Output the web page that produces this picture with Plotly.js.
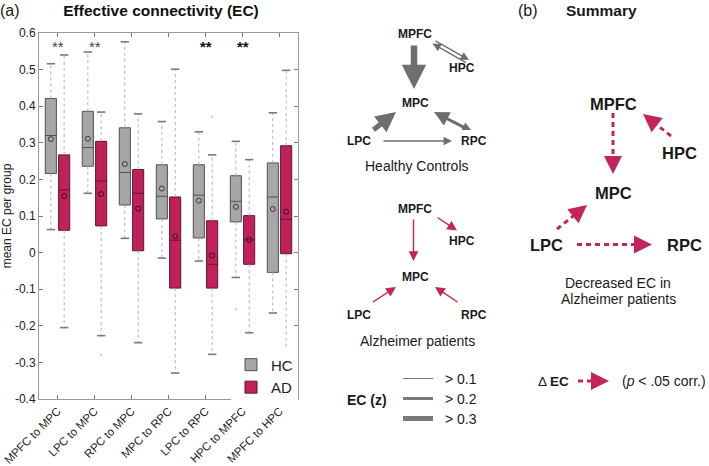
<!DOCTYPE html>
<html><head><meta charset="utf-8">
<script src="https://cdn.plot.ly/plotly-3.0.1.min.js"></script>
<style>html,body{margin:0;padding:0;background:#fff}#chart{width:709px;height:466px}</style>
</head><body><div id="chart"></div>
<script>
// ---------- data ----------
const categories = ['MPFC to MPC','LPC to MPC','RPC to MPC','MPC to RPC','LPC to RPC','HPC to MPFC','MPFC to HPC'];
const hcLower  = [0.063, 0.162, 0.039, -0.015, -0.023, -0.068, -0.165];
const hcQ1     = [0.216, 0.236, 0.130,  0.092,  0.040,  0.084, -0.054];
const hcMedian = [0.320, 0.287, 0.219,  0.154,  0.157,  0.140,  0.152];
const hcQ3     = [0.421, 0.386, 0.341,  0.240,  0.240,  0.210,  0.245];
const hcUpper  = [0.516, 0.548, 0.576,  0.358,  0.330,  0.304,  0.382];
const hcMean   = [0.310, 0.311, 0.242,  0.175,  0.142,  0.125,  0.119];
const adLower  = [-0.205, -0.227, -0.246, -0.329, -0.278, -0.219, -0.360];
const adQ1     = [0.061, 0.073, 0.005, -0.097, -0.097, -0.032, -0.003];
const adMedian = [0.171, 0.196, 0.162,  0.034, -0.032,  0.035,  0.091];
const adQ3     = [0.267, 0.304, 0.227,  0.152,  0.087,  0.101,  0.292];
const adUpper  = [0.540, 0.384, 0.379,  0.501,  0.267,  0.254,  0.498];
const adMean   = [0.154, 0.160, 0.120,  0.045, -0.008,  0.035,  0.112];
const hcOutlierCat = [5];
const hcOutlierVal = [-0.155];
const adOutlierCat = [1, 4];
const adOutlierVal = [-0.280, 0.371];
const sigCats = [0, 1, 4, 5];
const sigLabels = ['**', '**', '**', '**'];
const sigY = 0.562;
const yTickVals = [-0.4, -0.3, -0.2, -0.1, 0, 0.1, 0.2, 0.3, 0.4, 0.5, 0.6];
const yTickText = ['-0.4', '-0.3', '-0.2', '-0.1', '0', '0.1', '0.2', '0.3', '0.4', '0.5', '0.6'];
const groupNames = ['HC', 'AD'];
const ecLegendLabels = ['> 0.1', '> 0.2', '> 0.3'];

// ---------- styles ----------
const HC_FILL = '#a7a7a7', HC_LINE = '#505050';
const AD_FILL = '#c0215a', AD_LINE = '#5e1530';
const CRIMSON = '#c2255c';
const ARROW_GRAY = '#6e6e6e';
const OFF = 0.18, BOXW = 0.3;
const FONT = 'Liberation Sans, Arial, Helvetica, sans-serif';

const idx = categories.map((_, i) => i);
const hcX = idx.map(i => i - OFF);
const adX = idx.map(i => i + OFF);

function boxTrace(name, x, q1, med, q3, fill, line) {
  return {type: 'box', name: name, x: x, q1: q1, median: med, q3: q3,
    lowerfence: q1, upperfence: q3, width: BOXW, whiskerwidth: 0,
    boxpoints: false, fillcolor: fill, line: {color: line, width: 1},
    hoverinfo: 'skip', showlegend: true};
}
function whiskerTrace(x, lo, q1, q3, hi) {
  const xs = [], ys = [];
  x.forEach((xv, i) => { xs.push(xv, xv, null, xv, xv, null); ys.push(q3[i], hi[i], null, q1[i], lo[i], null); });
  return {type: 'scatter', mode: 'lines', x: xs, y: ys, line: {color: '#b0b0b0', width: 1, dash: 'dot'},
    hoverinfo: 'skip', showlegend: false, connectgaps: false};
}
function capTrace(x, lo, hi) {
  return {type: 'scatter', mode: 'markers', x: x.concat(x), y: lo.concat(hi),
    marker: {symbol: 'line-ew-open', size: 6, color: '#7a7a7a', line: {color: '#7a7a7a', width: 1.6}},
    hoverinfo: 'skip', showlegend: false};
}
function meanTrace(x, m, col) {
  return {type: 'scatter', mode: 'markers', x: x, y: m,
    marker: {symbol: 'circle-open', size: 5, line: {color: col, width: 1}, color: col},
    hoverinfo: 'skip', showlegend: false};
}
function outlierTrace(cats, vals, off) {
  return {type: 'scatter', mode: 'markers', x: cats.map(c => c + off), y: vals,
    marker: {size: 2.5, color: '#d4d4d4'}, hoverinfo: 'skip', showlegend: false};
}

const data = [
  whiskerTrace(hcX, hcLower, hcQ1, hcQ3, hcUpper),
  whiskerTrace(adX, adLower, adQ1, adQ3, adUpper),
  capTrace(hcX, hcLower, hcUpper),
  capTrace(adX, adLower, adUpper),
  boxTrace(groupNames[0], hcX, hcQ1, hcMedian, hcQ3, HC_FILL, HC_LINE),
  boxTrace(groupNames[1], adX, adQ1, adMedian, adQ3, AD_FILL, AD_LINE),
  meanTrace(hcX, hcMean, '#3a3a3a'),
  meanTrace(adX, adMean, '#3d0818'),
  outlierTrace(hcOutlierCat, hcOutlierVal, -OFF),
  outlierTrace(adOutlierCat, adOutlierVal, OFF)
];

// ---------- geometry helpers for the diagrams (pixel -> paper) ----------
const W = 709, H = 466, ML = 39, MR = 411, MT = 33, MB = 67;
const PW = W - ML - MR, PH = H - MT - MB;
const P = (px, py) => ({x: (px - ML) / PW, y: (H - MB - py) / PH});

const annotations = [];
const shapes = [];

function txt(px, py, text, size, opts) {
  const p = P(px, py);
  annotations.push(Object.assign({xref: 'paper', yref: 'paper', x: p.x, y: p.y, text: text,
    showarrow: false, xanchor: 'center', yanchor: 'middle',
    font: {family: FONT, size: size, color: '#1a1a1a'}}, opts || {}));
}
function arrow(tail, tip, color, width, size, head) {
  const p = P(tip[0], tip[1]);
  annotations.push({xref: 'paper', yref: 'paper', x: p.x, y: p.y, ax: tail[0] - tip[0], ay: tail[1] - tip[1],
    axref: 'pixel', ayref: 'pixel', text: '', showarrow: true, arrowhead: head === undefined ? 2 : head,
    arrowsize: size, arrowwidth: width, arrowcolor: color, standoff: 0, startstandoff: 0});
}
function dashedArrow(tail, tip, color, width) {
  const dx = tip[0] - tail[0], dy = tip[1] - tail[1];
  const L = Math.sqrt(dx * dx + dy * dy), ux = dx / L, uy = dy / L;
  const end = [tip[0] - ux * 9, tip[1] - uy * 9];
  const a = P(tail[0], tail[1]), b = P(end[0], end[1]);
  shapes.push({type: 'line', xref: 'paper', yref: 'paper', x0: a.x, y0: a.y, x1: b.x, y1: b.y,
    line: {color: color, width: width, dash: '5px,4px'}});
  arrow([tip[0] - ux * 9, tip[1] - uy * 9], tip, color, width, 1.2, 2);
}
function seg(x0, y0, x1, y1, color, width) {
  const a = P(x0, y0), b = P(x1, y1);
  shapes.push({type: 'line', xref: 'paper', yref: 'paper', x0: a.x, y0: a.y, x1: b.x, y1: b.y,
    line: {color: color, width: width}});
}

// significance stars
sigCats.forEach((c, i) => {
  const strong = c >= 4;
  annotations.push({xref: 'x', yref: 'y', x: c, y: sigY, text: strong ? '<b>' + sigLabels[i] + '</b>' : sigLabels[i],
    showarrow: false, xanchor: 'center', yanchor: 'middle',
    font: {family: FONT, size: 15, color: strong ? '#111' : '#444'}});
});

// panel labels
txt(10, 11, '(a)', 16);
txt(528, 11, '(b)', 16);
txt(601, 11, '<b>Summary</b>', 15.5);

// Healthy controls diagram
const B = s => '<b>' + s + '</b>';
txt(415, 34, B('MPFC'), 12);
txt(462, 68, B('HPC'), 12);
txt(415, 103, B('MPC'), 12);
txt(359, 141, B('LPC'), 12);
txt(474, 141, B('RPC'), 12);
txt(417, 166, 'Healthy Controls', 14);
arrow([414, 44], [414, 89], ARROW_GRAY, 6.5, 0.75, 2);
arrow([467.5, 63.5], [432.5, 43.5], ARROW_GRAY, 1.3, 1.3, 2);
arrow([434, 40], [469, 60], ARROW_GRAY, 1.3, 1.3, 2);
arrow([372, 131], [396, 112], ARROW_GRAY, 5, 0.8, 2);
arrow([467, 129], [434, 112], ARROW_GRAY, 3, 1, 2);
arrow([437, 113], [471, 130], ARROW_GRAY, 1.3, 1.3, 2);
arrow([382, 141], [452, 141], ARROW_GRAY, 1.3, 1.3, 2);

// Alzheimer diagram
txt(415, 209, B('MPFC'), 12);
txt(462, 241, B('HPC'), 12);
txt(415, 277, B('MPC'), 12);
txt(359, 315, B('LPC'), 12);
txt(474, 315, B('RPC'), 12);
txt(417, 341, 'Alzheimer patients', 14);
arrow([413.5, 218], [413.5, 261], CRIMSON, 1.4, 1.4, 2);
arrow([436, 216.5], [457, 230.5], CRIMSON, 1.4, 1.4, 2);
arrow([371.5, 303], [396, 287], CRIMSON, 1.4, 1.4, 2);
arrow([459, 303], [435, 287], CRIMSON, 1.4, 1.4, 2);

// EC (z) key
txt(367, 400, B('EC (z)'), 14);
[1, 3, 5].forEach((w, i) => {
  seg(403, 378.5 + 20 * i, 433, 378.5 + 20 * i, '#7a7a7a', w);
  txt(443, 379 + 20 * i, ecLegendLabels[i], 14, {xanchor: 'left'});
});

// Summary diagram
txt(613, 104, B('MPFC'), 16.5);
txt(679, 153, B('HPC'), 16.5);
txt(613, 193, B('MPC'), 16.5);
txt(546, 245, B('LPC'), 16.5);
txt(684, 245, B('RPC'), 16.5);
txt(618, 283, 'Decreased EC in', 14);
txt(618, 299, 'Alzheimer patients', 14);
dashedArrow([613, 113], [613, 174], CRIMSON, 3);
dashedArrow([671, 136], [643, 114], CRIMSON, 3);
dashedArrow([557, 229], [587, 205], CRIMSON, 3);
dashedArrow([577, 244.5], [652, 244.5], CRIMSON, 3);
txt(553, 381, '\u0394 ' + B('EC'), 13.5);
dashedArrow([578, 381], [609, 381], CRIMSON, 3);
txt(664, 381, '(<i>p</i> &lt; .05 corr.)', 14);

const layout = {
  width: W, height: H,
  margin: {l: ML, r: MR, t: MT, b: MB, pad: 0},
  paper_bgcolor: '#fff', plot_bgcolor: '#fff',
  font: {family: FONT, size: 12, color: '#222'},
  title: {text: '<b>Effective connectivity (EC)</b>', font: {family: FONT, size: 15.5, color: '#111'},
    xref: 'container', yref: 'container', x: 161 / W, xanchor: 'center', y: 1 - 11 / H, yanchor: 'middle'},
  boxmode: 'overlay',
  showlegend: true,
  legend: {x: 1, xanchor: 'right', y: -0.012, yanchor: 'bottom', bgcolor: 'rgba(255,255,255,1)',
    borderwidth: 0, font: {family: FONT, size: 15, color: '#222'}, itemwidth: 30, tracegroupgap: 0},
  xaxis: {range: [-0.5, 6.5], tickmode: 'array', tickvals: idx, ticktext: categories, tickangle: -45,
    ticklabeloverflow: 'allow',
    ticks: 'inside', ticklen: 4, tickcolor: '#777', showline: true, linecolor: '#999', linewidth: 1,
    mirror: 'ticks', showgrid: false, zeroline: false, tickfont: {family: FONT, size: 11.5, color: '#222'}},
  yaxis: {range: [-0.4, 0.6], tickmode: 'array', tickvals: yTickVals, ticktext: yTickText,
    ticks: 'inside', ticklen: 4, tickcolor: '#777', showline: true, linecolor: '#999', linewidth: 1,
    mirror: 'ticks', showgrid: false, zeroline: false, tickfont: {family: FONT, size: 12, color: '#222'},
    title: {text: 'mean EC per group', font: {family: FONT, size: 12, color: '#222'}, standoff: 6}},
  annotations: annotations,
  shapes: shapes
};

Plotly.newPlot('chart', data, layout, {displayModeBar: false, staticPlot: true});
</script>
</body></html>
